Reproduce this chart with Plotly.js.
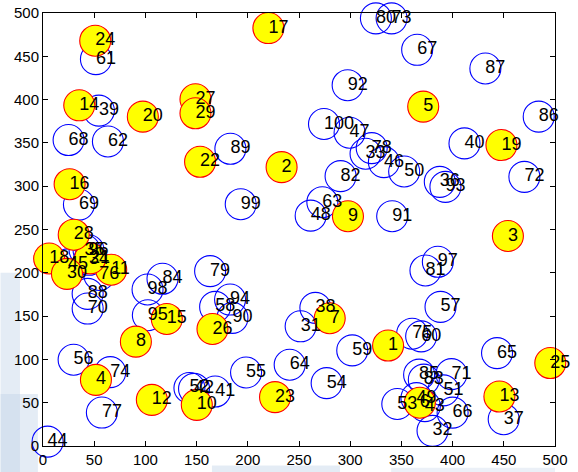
<!DOCTYPE html>
<html>
<head>
<meta charset="utf-8">
<script src="https://cdn.plot.ly/plotly-3.0.1.min.js"></script>
<style>
html,body{margin:0;padding:0;background:#fff;}
#chart{width:578px;height:472px;}
</style>
</head>
<body>
<div id="chart"></div>
<script>
// Yellow nodes (1-30)
var headIds = [1,2,3,4,5,6,7,8,9,10,11,12,13,14,15,16,17,18,19,20,21,22,23,24,25,26,27,28,29,30];
var headX = [337,233,454,51.7,371.3,368,280,90.7,297.8,150.2,66.6,106.3,445.7,35.4,120.9,26,220.1,6,447.7,97.5,46,153.4,226.6,51,495.4,165.5,148.9,30,148.9,23.4];
var headY = [116,322,242.5,76.4,391.9,50,147.5,120.5,265.3,47.5,203.5,53.3,57.1,393.4,146.7,302.3,482.6,216.5,347.5,380.3,216.6,328.2,56.4,468,95.8,135.1,400.4,244,384.2,198.8];

// Blue nodes (31-100)
var nodeIds = [31,32,33,34,35,36,37,38,39,40,41,42,43,44,45,46,47,48,49,50,51,52,53,54,55,56,57,58,59,60,61,62,63,64,65,66,67,68,69,70,71,72,73,74,75,76,77,78,79,80,81,82,83,84,85,86,87,88,89,90,91,92,93,94,95,96,97,98,99,100];
var nodeX = [251.6,380.4,315,45,40.6,387.5,449.9,266,54.6,411.6,168.1,147.5,372.9,4.5,24.4,332.9,299.4,261.4,364.7,352.7,391,143,346,277,198.3,29.9,388.2,168.1,302,369.3,51.7,63.4,272.8,240.9,443.4,400,365.4,25,35.1,43.6,398.9,470.1,340.4,65.7,360.5,55,57.5,321,163.2,325.1,373.5,290.6,371.9,116.7,367.3,484.1,432,43.6,183,185,341,297.5,393,182.7,102.4,44.5,385.6,102.1,193.1,274.4];
var nodeY = [138.2,17.5,337.5,215,226.3,305,30.9,159.5,387.3,349.4,62.9,66,46.1,5,209.7,327.8,361.8,266,55.3,317,64.2,67,48.5,72.6,84.9,99.6,160.6,160.6,110.4,126.6,446.7,351.7,281.5,93.8,107.3,38.5,457.5,353.3,278.8,158.7,83,310.8,493.8,85.3,129.7,197.5,38.6,344,201.9,493.8,202.7,311.6,76.6,193.1,82.4,380.3,435.9,175.7,343.2,147.9,265.3,416.6,299.2,169.1,151,226,212.7,180.7,279.2,371.8];

// Axis ticks
var tickVals = [0,50,100,150,200,250,300,350,400,450,500];

var labelFont = {family: 'Liberation Sans Narrow, Liberation Sans, Arial, sans-serif', size: 18, color: '#000'};

var traces = [
  {
    x: nodeX, y: nodeY, mode: 'markers', type: 'scatter', cliponaxis: false,
    marker: {size: 31, color: 'rgba(0,0,0,0)', line: {color: '#0000ff', width: 1.1}},
    hoverinfo: 'skip', showlegend: false
  },
  {
    x: headX, y: headY, mode: 'markers', type: 'scatter', cliponaxis: false,
    marker: {size: 31, color: '#ffff00', line: {color: '#ff0000', width: 1.1}},
    hoverinfo: 'skip', showlegend: false
  },
  {
    x: headX, y: headY, text: headIds.map(String), mode: 'text', type: 'scatter', cliponaxis: false,
    textposition: 'middle right', textfont: labelFont, hoverinfo: 'skip', showlegend: false
  },
  {
    x: nodeX, y: nodeY, text: nodeIds.map(String), mode: 'text', type: 'scatter', cliponaxis: false,
    textposition: 'middle right', textfont: labelFont, hoverinfo: 'skip', showlegend: false
  }
];

var axisCommon = {
  range: [0, 500], tickvals: tickVals, ticktext: tickVals.map(String),
  ticks: 'inside', ticklen: 5, tickwidth: 1, tickcolor: '#000',
  showline: true, linecolor: '#000', linewidth: 1, mirror: 'ticks',
  showgrid: false, zeroline: false, fixedrange: true,
  tickfont: {family: 'Liberation Sans, Arial, sans-serif', size: 15, color: '#000'}
};

var wm = 'rgba(195,212,232,0.45)';
var layout = {
  width: 578, height: 472,
  margin: {l: 43, r: 23, t: 13, b: 26, pad: 0},
  paper_bgcolor: '#ffffff', plot_bgcolor: '#ffffff',
  xaxis: Object.assign({}, axisCommon),
  yaxis: Object.assign({}, axisCommon),
  shapes: [
    {type: 'rect', xref: 'paper', yref: 'paper', x0: -0.083, x1: -0.045, y0: -0.07, y1: 0.40, fillcolor: wm, line: {width: 0}, layer: 'below'},
    {type: 'rect', xref: 'paper', yref: 'paper', x0: -0.083, x1: -0.01, y0: -0.07, y1: 0.12, fillcolor: wm, line: {width: 0}, layer: 'below'},
    {type: 'rect', xref: 'paper', yref: 'paper', x0: 0.33, x1: 0.58, y0: -0.07, y1: -0.045, fillcolor: wm, line: {width: 0}, layer: 'below'},
    {type: 'rect', xref: 'paper', yref: 'paper', x0: 0.68, x1: 1.0, y0: -0.07, y1: -0.05, fillcolor: 'rgba(205,218,235,0.4)', line: {width: 0}, layer: 'below'}
  ]
};

Plotly.newPlot('chart', traces, layout, {displayModeBar: false, staticPlot: true});
</script>
</body>
</html>
